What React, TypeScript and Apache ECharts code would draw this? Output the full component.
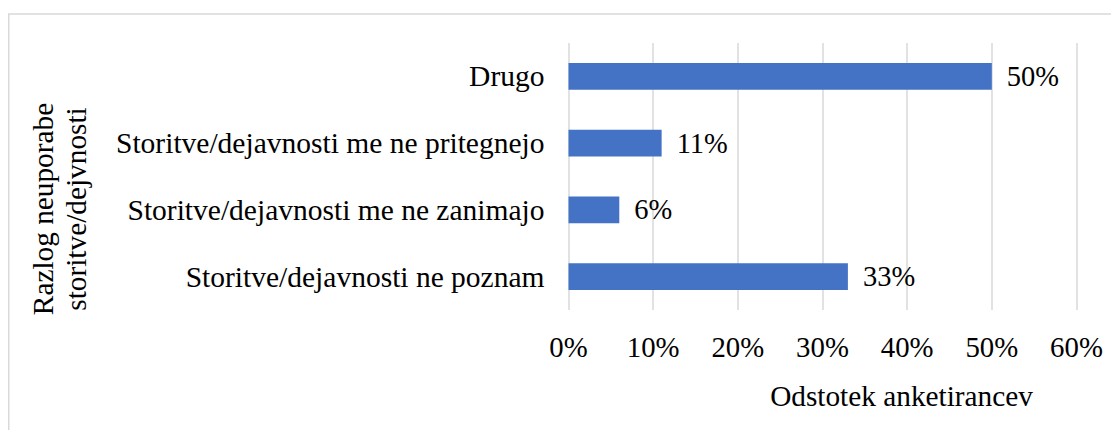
import React, { useEffect, useRef } from "react";
import * as echarts from "echarts";

const categories = [
  "Storitve/dejavnosti ne poznam",
  "Storitve/dejavnosti me ne zanimajo",
  "Storitve/dejavnosti me ne pritegnejo",
  "Drugo",
];
const values = [33, 6, 11, 50];
const xTicks = { min: 0, max: 60, interval: 10 };
const xTitle = "Odstotek anketirancev";
const yTitle = "Razlog neuporabe\nstoritve/dejvnosti";

const FONT = '"Liberation Serif", "Times New Roman", serif';

export default function App() {
  const ref = useRef<HTMLDivElement>(null);
  useEffect(() => {
    if (!ref.current) return;
    const chart = echarts.init(ref.current, undefined, { renderer: "svg" });
    chart.setOption({
      animation: false,
      backgroundColor: "#fff",
      textStyle: { fontFamily: FONT, color: "#000" },
      grid: { left: 560.5, right: 42.5, top: 35, bottom: 120, containLabel: false },
      xAxis: {
        type: "value",
        min: xTicks.min,
        max: xTicks.max,
        interval: xTicks.interval,
        axisLine: { show: false },
        axisTick: { show: false },
        splitLine: { show: true, lineStyle: { color: "#d9d9d9", width: 1.5 } },
        axisLabel: {
          formatter: "{value}%",
          fontSize: 28.8,
          fontFamily: FONT,
          color: "#000",
          margin: 22,
        },
      },
      yAxis: {
        type: "category",
        data: categories,
        axisLine: { show: false },
        axisTick: { show: false },
        splitLine: { show: false },
        axisLabel: {
          fontSize: 29.5,
          fontFamily: FONT,
          color: "#000",
          margin: 24,
        },
      },
      series: [
        {
          type: "bar",
          data: values,
          barWidth: "40%",
          itemStyle: { color: "#4472C4" },
          label: {
            show: true,
            position: "right",
            distance: 15,
            formatter: "{c}%",
            fontSize: 28.5,
            fontFamily: FONT,
            color: "#000",
          },
        },
      ],
      graphic: [
        {
          type: "polyline",
          shape: { points: [[0.75, 600], [0.75, 6], [1200, 6]] },
          style: { stroke: "#d9d9d9", lineWidth: 1.5, fill: null },
          silent: true,
        },
        {
          type: "text",
          x: 893.5,
          y: 388,
          style: {
            text: xTitle,
            font: `29.3px ${FONT}`,
            fill: "#000",
            textAlign: "center",
            textVerticalAlign: "middle",
          },
        },
        {
          type: "text",
          x: 51,
          y: 201,
          rotation: Math.PI / 2,
          style: {
            text: yTitle,
            font: `29.3px ${FONT}`,
            fill: "#000",
            textAlign: "center",
            textVerticalAlign: "middle",
            lineHeight: 33,
          },
        },
      ],
    });
    return () => chart.dispose();
  }, []);
  return <div ref={ref} style={{ width: 1111, height: 422 }} />;
}
